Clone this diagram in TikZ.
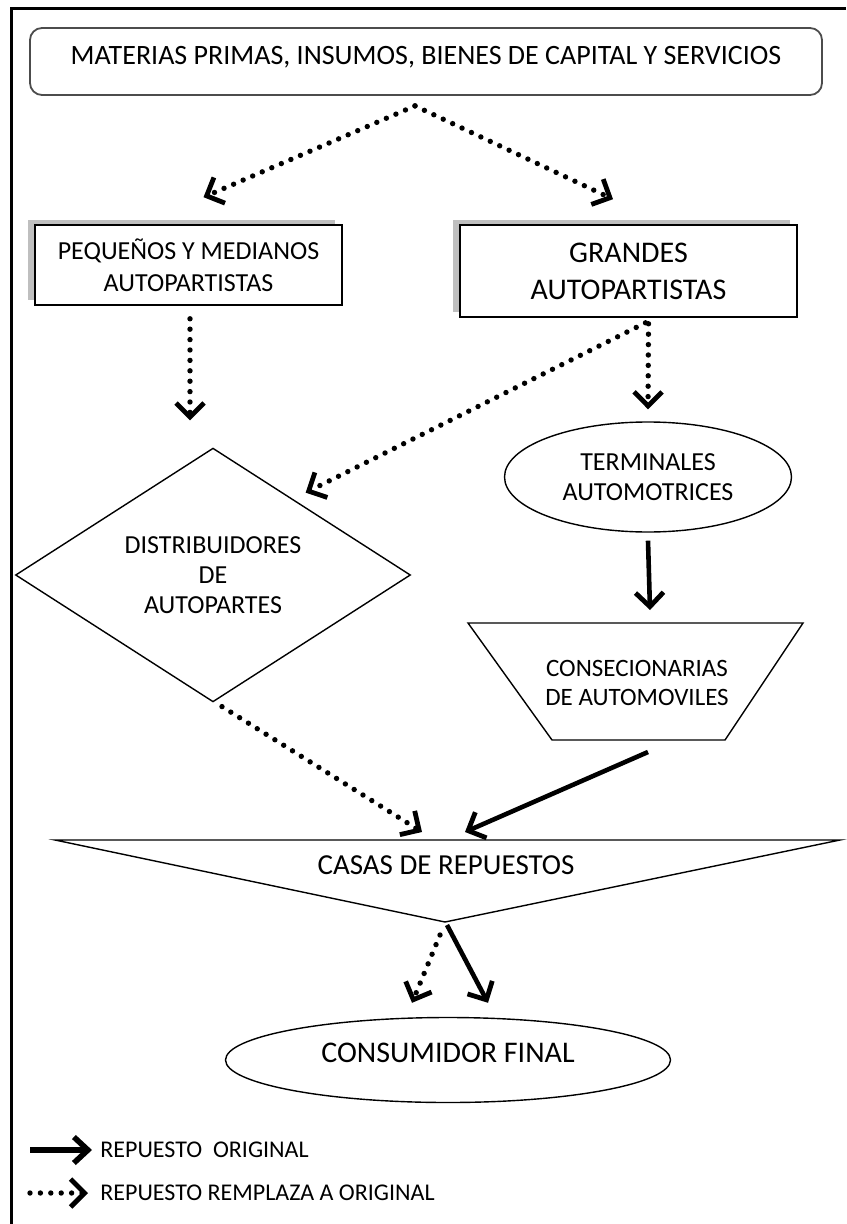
\documentclass[tikz,border=0pt]{standalone}
\usepackage{fontspec}
\setmainfont{Carlito}
\usetikzlibrary{shapes.geometric,arrows.meta,shadows}

\begin{document}
\begin{tikzpicture}[%
        % one unit is one pixel of the page
        x=0.5pt,y=-0.5pt,
        every node/.style={align=center,inner sep=0pt},
        % boxes
        caja/.style={draw,line width=0.8pt,fill=white,
            drop shadow={shadow xshift=-3.5pt,shadow yshift=2.5pt,fill=black!25,opacity=1}},
        forma/.style={draw,line width=0.7pt},
        % arrows
        punta/.style={-{Straight Barb[length=7pt,width=14pt,line width=2.4pt]}},
        firme/.style={punta,line width=2.3pt},
        punteada/.style={punta,line width=2.7pt,line cap=round,dash pattern=on 0pt off 5.2pt},
        ]

        \useasboundingbox (0,0) rectangle (846,1224);

        % page frame (only left and top edges)
        \draw[line width=1.5pt] (11,1224) -- (11,9) -- (846,9);

        % top box
        \node[draw=black!70,line width=0.9pt,rounded corners=6pt,
            minimum width=396pt,minimum height=33.5pt,
            font=\fontsize{14}{17}\selectfont,text height=9pt,text depth=5.5pt]
            (insumos) at (426,61.5) {MATERIAS PRIMAS, INSUMOS, BIENES DE CAPITAL Y SERVICIOS};

        % autopartistas
        \node[caja,minimum width=153.5pt,minimum height=40pt,
            font=\fontsize{13}{16}\selectfont] (pym) at (188.5,265)
            {PEQUEÑOS Y MEDIANOS\\AUTOPARTISTAS};
        \node[caja,minimum width=168.5pt,minimum height=46pt,
            font=\fontsize{15}{18.5}\selectfont] (grandes) at (628.5,271)
            {GRANDES\\AUTOPARTISTAS};

        % terminales and distribuidores
        \node[forma,ellipse,minimum width=143.5pt,minimum height=55pt,
            font=\fontsize{13}{15}\selectfont] (term) at (648,477)
            {TERMINALES\\AUTOMOTRICES};
        \node[forma,diamond,minimum width=197.5pt,minimum height=113pt,
            font=\fontsize{13}{15}\selectfont] (dist) at (213,575)
            {DISTRIBUIDORES\\DE\\AUTOPARTES};

        % consecionarias (trapezoid)
        \coordinate (consTL) at (468,623);  % top left
        \coordinate (consTR) at (803,623);  % top right
        \coordinate (consBR) at (725,740);  % bottom right
        \coordinate (consBL) at (552,740);  % bottom left
        \coordinate (consArriba) at (648,623);
        \coordinate (consAbajo) at (648,740);
        \draw[line width=0.7pt] (consTL) -- (consTR) -- (consBR) -- (consBL) -- cycle;
        \node[font=\fontsize{12.5}{14.5}\selectfont] (cons) at (637,683)
            {CONSECIONARIAS\\DE AUTOMOVILES};

        % casas de repuestos (triangle)
        \coordinate (casasL) at (55,840);
        \coordinate (casasR) at (840,840);
        \coordinate (casasB) at (445,922);
        \coordinate (casasArriba) at (445,840);
        \draw[line width=0.7pt] (casasL) -- (casasR) -- (casasB) -- cycle;
        \node[font=\fontsize{14.5}{17}\selectfont] (casas) at (446,865) {CASAS DE REPUESTOS};

        % consumidor final
        \node[forma,ellipse,minimum width=222.5pt,minimum height=42.5pt,
            font=\fontsize{15}{18}\selectfont,text height=9.7pt,text depth=7pt]
            (consu) at (448,1060) {CONSUMIDOR FINAL};

        % connectors
        \draw[punteada] ([xshift=-5.5pt,yshift=-5pt]insumos.south) -- ([xshift=7.5pt,yshift=13.5pt]pym.north);
        \draw[punteada] ([xshift=-5.5pt,yshift=-5pt]insumos.south) -- ([xshift=-7.75pt,yshift=12.5pt]grandes.north);
        \draw[punteada] ([xshift=0.75pt,yshift=-6.5pt]pym.south) -- ([xshift=-11.5pt,yshift=13.5pt]dist.north);
        \draw[punteada] ([xshift=10pt,yshift=-3pt]grandes.south) -- ([yshift=6pt]term.north);
        \draw[punteada] ([xshift=8.5pt,yshift=-2.5pt]grandes.south) -- ([xshift=-3.25pt,yshift=9.25pt]dist.north east);
        \draw[firme] ([yshift=-4pt]term.south) -- ([xshift=1pt,yshift=6.5pt]consArriba);
        \draw[firme] ([yshift=-6pt]consAbajo) -- ([xshift=10pt,yshift=4pt]casasArriba);
        \draw[punteada] ([xshift=4.5pt,yshift=-2pt]dist.south) -- ([xshift=-11.5pt,yshift=4pt]casasArriba);
        \draw[punteada] ([xshift=-2.5pt,yshift=-6.5pt]casasB) -- ([xshift=-18pt,yshift=7pt]consu.north);
        \draw[firme] ([xshift=1pt,yshift=-1.5pt]casasB) -- ([xshift=20pt,yshift=7pt]consu.north);

        % legend
        \coordinate (leyFirme) at (30,1150);
        \coordinate (leyPunto) at (30,1193);
        \node[anchor=west,font=\fontsize{12}{14}\selectfont] (leyTextoA) at (100,1150) {REPUESTO\ \ ORIGINAL};
        \node[anchor=west,font=\fontsize{12}{14}\selectfont] (leyTextoB) at (100,1193) {REPUESTO REMPLAZA A ORIGINAL};
        \draw[line width=3.2pt,-{Straight Barb[length=7pt,width=13pt,line width=2.8pt]}] (leyFirme) -- ([xshift=-4pt]leyTextoA.west);
        \draw[punteada] (leyPunto) -- ([xshift=-6pt]leyTextoB.west);

\end{tikzpicture}
\end{document}
